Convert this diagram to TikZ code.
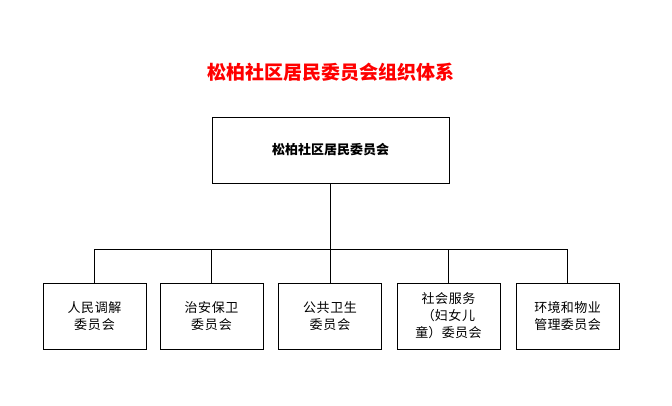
\documentclass[tikz,border=0pt]{standalone}
\usepackage{fontspec}
\setmainfont{Noto Sans CJK SC}
\XeTeXlinebreaklocale "zh"
\XeTeXlinebreakskip=0pt plus 1pt
\begin{document}
\begin{tikzpicture}[x=1pt,y=-1pt,
 box/.style={draw,line width=0.8pt,minimum width=103pt,minimum height=66pt,text width=86pt,align=center,font=\fontsize{13}{17}\selectfont,inner sep=2pt},
 ln/.style={line width=0.8pt}]
\useasboundingbox (0,0) rectangle (672,405);
\node[text=red,font=\fontsize{19}{22}\selectfont\bfseries] (t) at (331,72) {松柏社区居民委员会组织体系};
\node[draw,line width=0.8pt,minimum width=237pt,minimum height=66pt,font=\fontsize{13}{16}\selectfont\bfseries] (top) at (330.5,150) {松柏社区居民委员会};
\node[box] (b1) at (94.5,316) {人民调解委员会};
\node[box] (b2) at (211.5,316) {治安保卫委员会};
\node[box] (b3) at (330,316) {公共卫生委员会};
\node[box] (b4) at (448.5,316) {社会服务（妇女儿童）委员会};
\node[box] (b5) at (567.5,316) {环境和物业管理委员会};
\coordinate (j) at (330.5,249);
\draw[ln] (top.south) -- (j);
\foreach \b in {b1,b2,b3,b4,b5} \draw[ln] (j) -| (\b.north);
\end{tikzpicture}
\end{document}
